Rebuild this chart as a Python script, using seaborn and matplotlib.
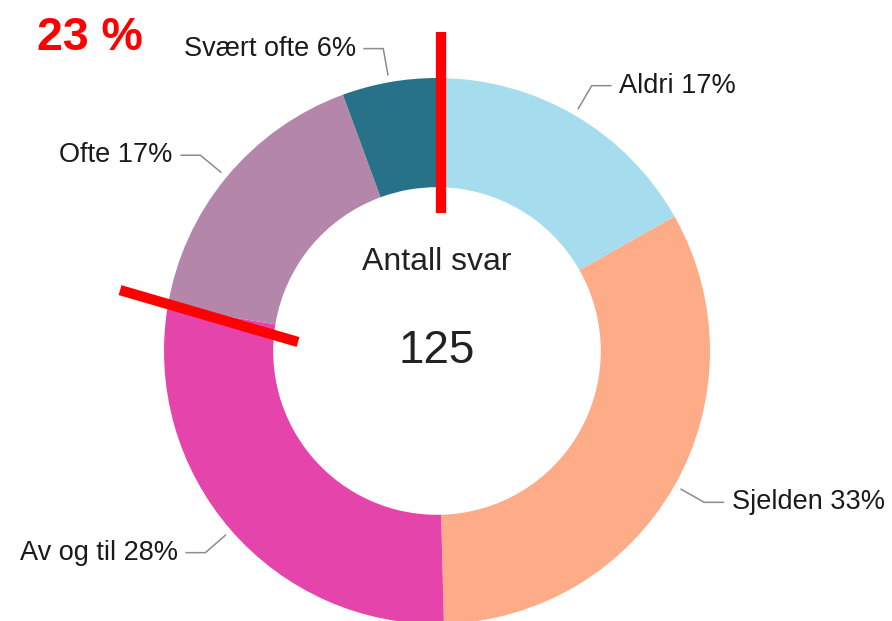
import numpy as np
import matplotlib
matplotlib.use("Agg")
import matplotlib.pyplot as plt
import seaborn as sns

# answers (counts out of 125), clockwise from 12 o'clock
categories = ["Aldri", "Sjelden", "Av og til", "Ofte", "Svært ofte"]
counts = [21, 41, 35, 21, 7]
pct_labels = ["17%", "33%", "28%", "17%", "6%"]
colors = ["#A6DDEE", "#FEAB88", "#E545AA", "#B487AA", "#277289"]
total_label = "Antall svar"
total = 125
highlight_text = "23 %"

# hand drawn red marker strokes (data units, outer radius = 1)
marker_lines = [([0.015, 0.015], [0.505, 1.170]),
                ([-1.161, -0.509], [0.223, 0.033])]

sns.set_theme(style="white")
plt.rcParams['font.family'] = ['Liberation Sans', 'DejaVu Sans']

fig = plt.figure(figsize=(8.92, 6.21), dpi=100)
ax = fig.add_axes([0, 0, 1, 1])

wedges, _ = ax.pie(counts, startangle=90, counterclock=False, colors=colors,
                   radius=1.0, wedgeprops=dict(width=0.4, linewidth=0))

# leader lines and labels
for w, cat, pct in zip(wedges, categories, pct_labels):
    mid = np.deg2rad((w.theta1 + w.theta2) / 2.0)
    x0, y0 = 1.025 * np.cos(mid), 1.025 * np.sin(mid)
    x1, y1 = 1.125 * np.cos(mid), 1.125 * np.sin(mid)
    side = 1 if np.cos(mid) >= 0 else -1
    x2 = x1 + side * 0.073
    ax.plot([x0, x1, x2], [y0, y1, y1], color="#8c8c8c", lw=1.1,
            solid_capstyle="butt")
    ax.text(x2 + side * 0.028, y1, cat + " " + pct, fontsize=19.5,
            color="#1a1a1a", va="center",
            ha="left" if side > 0 else "right")

ax.text(0, 0.326, total_label, fontsize=23, color="#222222",
        ha="center", va="center")
ax.text(0, 0.0, str(total), fontsize=33, color="#222222",
        ha="center", va="center")

for xs, ys in marker_lines:
    ax.plot(xs, ys, color="#FF0000", lw=7.4, solid_capstyle="butt")

ax.text(37 / 892, 1 - 50 / 621, highlight_text, transform=ax.transAxes,
        fontsize=33.5, fontweight="bold", color="#FF0000",
        ha="left", va="baseline")

unit = 273.0
ax.set_xlim(-437 / unit, (892 - 437) / unit)
ax.set_ylim(-(621 - 351) / unit, 351 / unit)
ax.set_aspect("auto")
ax.axis("off")

fig.savefig("out.png", dpi=100)
